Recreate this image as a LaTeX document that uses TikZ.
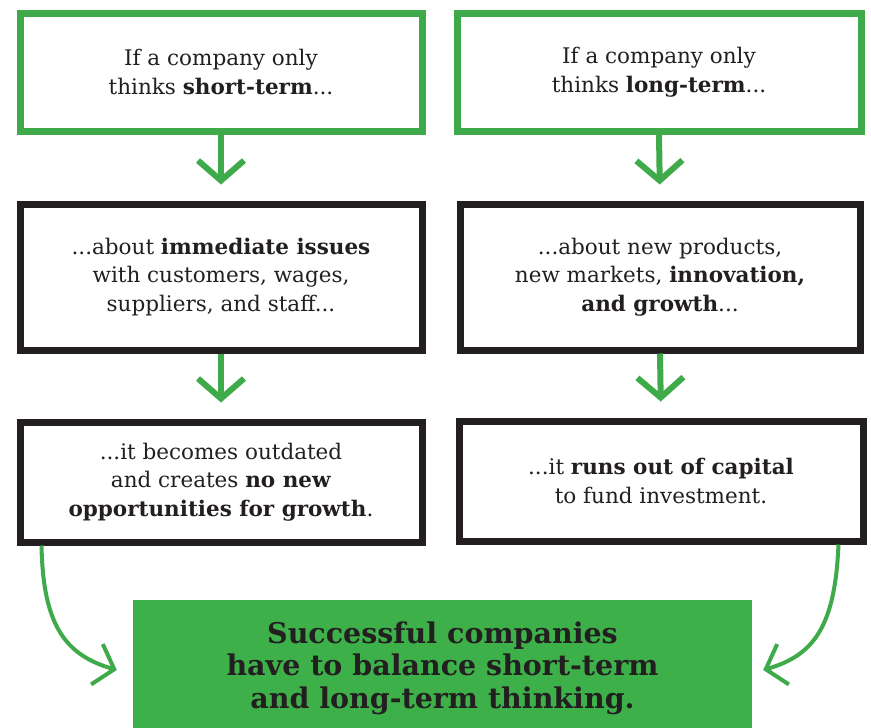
\documentclass[tikz,border=0pt]{standalone}
\usepackage{fontspec}
\setmainfont{DejaVu Serif}
\usetikzlibrary{arrows.meta}
\definecolor{gline}{HTML}{3FAA4A}
\definecolor{gfill}{HTML}{3DB04A}
\definecolor{inkc}{HTML}{231F20}
\tikzset{
  greenbox/.style={draw=gline, line width=7pt, fill=white, minimum width=#1, align=center, text=inkc, font=\fontsize{21.5}{28.5}\selectfont, inner sep=0pt},
  blackbox/.style={draw=inkc, line width=7pt, fill=white, minimum width=#1, align=center, text=inkc, font=\fontsize{21.5}{28.5}\selectfont, inner sep=0pt},
  downarrow/.style={draw=gline, line width=6pt, shorten >=16pt, -{Straight Barb[length=20pt,width=46pt]}},
  curvearrow/.style={draw=gline, line width=4pt, -{Straight Barb[length=18pt,width=42pt]}},
  summary/.style={fill=gfill, minimum width=619pt, minimum height=136pt, align=center, text=inkc, font=\bfseries\fontsize{28.5}{32.5}\selectfont, inner sep=0pt}
}
\begin{document}
\begin{tikzpicture}[x=1pt,y=-1pt]
\useasboundingbox (0,0) rectangle (871,728);
\fill[white] (0,0) rectangle (871,728);
\node[greenbox=402pt, minimum height=118pt] (b1) at (221,72) {If a company only\\thinks \textbf{short-term}...};
\node[greenbox=404pt, minimum height=118pt] (b2) at (659,72) {If a company only\\thinks \textbf{long-term}...};
\node[blackbox=402pt, minimum height=146pt] (b3) at (221,277) {...about \textbf{immediate issues}\\with customers, wages,\\suppliers, and staff...};
\node[blackbox=400pt, minimum height=146pt] (b4) at (660,277) {...about new products,\\new markets, \textbf{innovation,}\\\textbf{and growth}...};
\node[blackbox=402pt, minimum height=120pt] (b5) at (221,482) {...it becomes outdated\\and creates \textbf{no new}\\\textbf{opportunities for growth}.};
\node[blackbox=404pt, minimum height=120pt] (b6) at (661,481) {...it \textbf{runs out of capital}\\to fund investment.};
\node[summary] (b7) at (442.5,668) {Successful companies\\have to balance short-term\\and long-term thinking.};
\draw[downarrow] (b1.south) -- (b3.north);
\draw[downarrow] (b2.south) -- (b4.north);
\draw[downarrow] (b3.south) -- (b5.north);
\draw[downarrow] (b4.south) -- (b6.north);
\coordinate (lstart) at ([xshift=25pt]b5.south west);
\coordinate (rstart) at ([xshift=-28pt]b6.south east);
\coordinate (lend) at ([xshift=-16pt,yshift=-2pt]b7.west);
\coordinate (rend) at ([xshift=11pt,yshift=-2pt]b7.east);
\draw[curvearrow] (lstart) .. controls (43,625) and (65,655) .. (lend);
\draw[curvearrow] (rstart) .. controls (835,625) and (815,655) .. (rend);
\end{tikzpicture}
\end{document}
